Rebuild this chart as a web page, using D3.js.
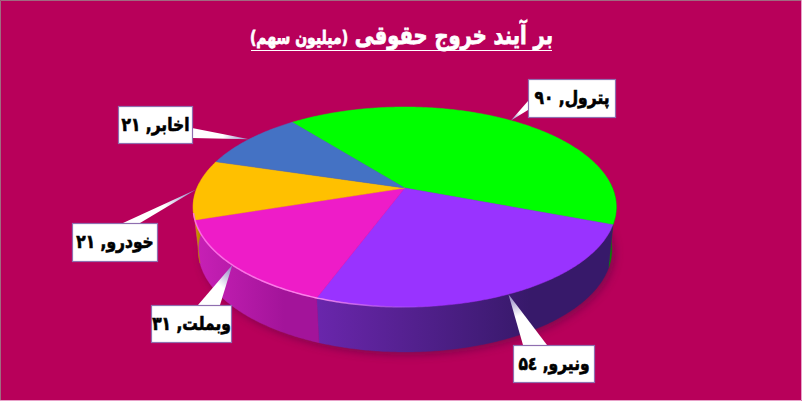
<!DOCTYPE html>
<html><head><meta charset="utf-8">
<script src="https://cdn.jsdelivr.net/npm/d3@7"></script>
<style>html,body{margin:0;padding:0;background:#b8005a;overflow:hidden}svg{display:block}</style>
</head><body><svg id="c" width="802" height="401"></svg>
<script>
const titleMain = "بر آیند خروج حقوقی";
const titleUnit = "(میلیون سهم)";
const categories = ["پترول","ونیرو","وبملت","خودرو","اخابر"];
const values = [90,54,31,21,21];
const valueLabels = ["۹۰","۵٤","۳۱","۲۱","۲۱"];
const topColors = ["#00ff00","#9933ff","#ee1cc8","#ffc000","#4472c4"];
const wallLight = ["#00a000","#6a26ac","#c820b6","#e0a000","#3a62a8"];
const wallDark = ["#008000","#37196a","#a3149a","#b08000","#2c4c84"];
const boxes = [
 {x:528,y:79,w:87,h:38,tail:[[528,101],[528,110]]},
 {x:513,y:345,w:81,h:37,tail:[[523,345],[547,345]]},
 {x:151,y:305,w:80,h:37,tail:[[198,305],[220,305]]},
 {x:72,y:223,w:85,h:38,tail:[[123,223],[140,223]]},
 {x:118,y:106,w:74,h:37,tail:[[192,128],[192,138]]}
];
const W=802,H=401;
const svg=d3.select("#c");
const defs=svg.append("defs");
svg.append("rect").attr("width",W).attr("height",H).attr("fill","#b8005a");

const topFace={cx:404.7,cy:188,R:207.7,S:96.4,k:0.19};
const botFace={cx:405,cy:230.6,R:203,S:98.3,k:0.19};
const proj=(p,a)=>{const u=Math.sin(a),v=-Math.cos(a),d=1-p.k*v;return [p.cx+p.R*u/d,p.cy+p.S*v/d];};
const startDeg=-38.5;
const pie=d3.pie().sort(null).startAngle(startDeg*Math.PI/180).endAngle((startDeg+360)*Math.PI/180);
const arcs=pie(values);
const line=d3.line();
const sample=(p,a0,a1)=>{const n=Math.max(2,Math.ceil(Math.abs(a1-a0)/0.01));return d3.range(n+1).map(i=>proj(p,a0+(a1-a0)*i/n));};

// soft shadow
defs.append("filter").attr("id","blur").attr("x","-20%").attr("y","-20%").attr("width","140%").attr("height","140%")
  .append("feGaussianBlur").attr("stdDeviation",4);
svg.append("path").attr("d",line(sample({...botFace,cx:botFace.cx+3,cy:botFace.cy+3},0,2*Math.PI))+"Z")
  .attr("fill","#4a0a40").attr("opacity",.5).attr("filter","url(#blur)");

// walls: visible lower part of the drum, split by slice
const visA=Math.PI*0.5-0.05, visB=Math.PI*1.5+0.05;
arcs.forEach((d,i)=>{
  [[d.startAngle,d.endAngle],[d.startAngle+2*Math.PI,d.endAngle+2*Math.PI]].forEach(r=>{
    const a0=Math.max(r[0],visA),a1=Math.min(r[1],visB);
    if(a1<=a0) return;
    const t=sample(topFace,a0,a1),b=sample(botFace,a0,a1).reverse();
    const all=t.concat(b),ex=d3.extent(all,p=>p[0]);
    const id="w"+i+"_"+Math.round(a0*100);
    const g=defs.append("linearGradient").attr("id",id).attr("gradientUnits","userSpaceOnUse")
      .attr("x1",ex[0]).attr("x2",ex[1]).attr("y1",0).attr("y2",0);
    g.append("stop").attr("offset",0).attr("stop-color",wallLight[i]);
    g.append("stop").attr("offset",.72).attr("stop-color",wallDark[i]);
    g.append("stop").attr("offset",1).attr("stop-color",wallDark[i]);
    svg.append("path").attr("d",line(all)+"Z").attr("fill","url(#"+id+")")
      .attr("stroke","url(#"+id+")").attr("stroke-width",.4);
  });
});

// top face
arcs.forEach((d,i)=>{
  const pts=[[topFace.cx,topFace.cy]].concat(sample(topFace,d.startAngle,d.endAngle));
  svg.append("path").attr("d",line(pts)+"Z").attr("fill",topColors[i])
    .attr("stroke",topColors[i]).attr("stroke-width",.5);
});
// light rim along front edge
const rim=defs.append("linearGradient").attr("id","rim").attr("gradientUnits","userSpaceOnUse")
  .attr("x1",200).attr("x2",440).attr("y1",0).attr("y2",0);
rim.append("stop").attr("offset",0).attr("stop-color","#ff70e8").attr("stop-opacity",.9);
rim.append("stop").attr("offset",.5).attr("stop-color","#ff90f0").attr("stop-opacity",.9);
rim.append("stop").attr("offset",1).attr("stop-color","#b070f0").attr("stop-opacity",0);
svg.append("path").attr("d",line(sample(topFace,Math.PI*0.95,Math.PI*1.42))).attr("fill","none")
  .attr("stroke","url(#rim)").attr("stroke-width",1.5);

// callouts
arcs.forEach((d,i)=>{
  const b=boxes[i],tip=proj(topFace,(d.startAngle+d.endAngle)/2);
  const grad=defs.append("linearGradient").attr("id","t"+i).attr("gradientUnits","userSpaceOnUse")
    .attr("x1",tip[0]).attr("y1",tip[1]).attr("x2",b.tail[0][0]).attr("y2",b.tail[0][1]);
  grad.append("stop").attr("offset",0).attr("stop-color","#8a7ac0");
  grad.append("stop").attr("offset",.45).attr("stop-color","#ffffff");
  svg.append("path").attr("d",line([b.tail[0],tip,b.tail[1]])+"Z").attr("fill","url(#t"+i+")");
  svg.append("rect").attr("x",b.x+.5).attr("y",b.y+.5).attr("width",b.w).attr("height",b.h)
    .attr("fill","#fff").attr("stroke","#8f6fb0").attr("stroke-width",1.2);
  svg.append("text").attr("transform","translate("+(b.x+b.w/2+.5)+","+(b.y+b.h/2+6)+") scale(1,1.2)")
    .attr("text-anchor","middle")
    .attr("direction","rtl").attr("font-family","'DejaVu Sans',sans-serif").attr("font-weight","bold")
    .attr("font-size",15.5).attr("fill","#000").attr("stroke","#000").attr("stroke-width",.55)
    .text(categories[i]+", "+valueLabels[i]);
});

// title
const tt=svg.append("text").attr("transform","translate(401.5,43.5) scale(1,1.3)").attr("text-anchor","middle").attr("direction","rtl")
  .attr("font-family","'DejaVu Sans',sans-serif").attr("font-weight","bold")
  .attr("fill","#fff").attr("stroke","#fff").attr("stroke-width",.6);
tt.append("tspan").attr("font-size",19.5).text(titleMain+" ");
tt.append("tspan").attr("font-size",14).text(titleUnit);
svg.append("line").attr("x1",251).attr("x2",552).attr("y1",50.5).attr("y2",50.5).attr("stroke","#fff").attr("stroke-width",1);

// picture frame
svg.append("path").attr("d","M0.5,401V0.5H802").attr("fill","none").attr("stroke","#a06a80").attr("stroke-width",1);
svg.append("path").attr("d","M801.5,0V400.5H0").attr("fill","none").attr("stroke","#e8a0c8").attr("stroke-width",1);
</script></body></html>
